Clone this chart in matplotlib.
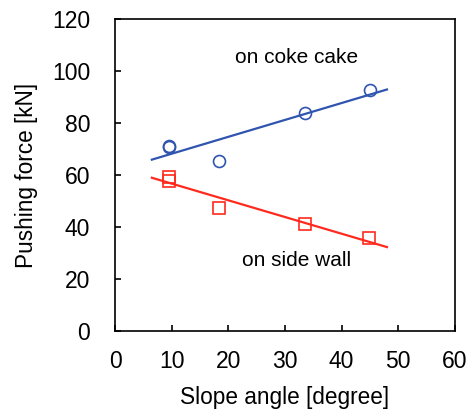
import numpy as np
import matplotlib
matplotlib.use("Agg")
import matplotlib.pyplot as plt

plt.rcParams["font.family"] = ["Liberation Sans", "DejaVu Sans"]

# Measured pushing force vs. slope angle
angle_cake = [9.5, 9.5, 18.4, 33.6, 45.0]
force_cake = [71.2, 70.6, 65.3, 84.0, 92.7]
angle_wall = [9.5, 9.5, 18.4, 33.6, 44.9]
force_wall = [59.3, 57.8, 47.4, 41.0, 35.6]

# x extent of the linear fits
fit_range = [6.5, 48.0]

BLUE = "#2f55b0"
RED = "#ff2a1e"

fig = plt.figure(figsize=(4.70, 4.12), dpi=100)
ax = fig.add_axes([0.2447, 0.1966, 0.7233, 0.7573])

xf = np.linspace(fit_range[0], fit_range[1], 50)
for xs, ys, color, marker in ((angle_cake, force_cake, BLUE, "o"),
                               (angle_wall, force_wall, RED, "s")):
    k, b = np.polyfit(xs, ys, 1)
    ax.plot(xf, k * xf + b, "-", color=color, lw=1.6)
    ax.plot(xs, ys, marker, ls="none", mfc="none", mec=color, mew=1.2, ms=8.6)

ax.text(32, 105.0, "on coke cake", ha="center", va="center", fontsize=15)
ax.text(32, 27.3, "on side wall", ha="center", va="center", fontsize=15)

ax.set_xlim(0, 60)
ax.set_ylim(0, 120)
ax.set_xticks(range(0, 61, 10))
ax.set_yticks(range(0, 121, 20))
ax.tick_params(direction="in", length=4, width=1.2, labelsize=16.5)
ax.tick_params(axis="x", pad=14)
ax.tick_params(axis="y", pad=18)
for s in ax.spines.values():
    s.set_linewidth(1.2)
ax.set_xlabel("Slope angle [degree]", fontsize=16.3, labelpad=9)
ax.set_ylabel("Pushing force [kN]", fontsize=16.3, labelpad=10)

fig.savefig("out.png", dpi=100)
